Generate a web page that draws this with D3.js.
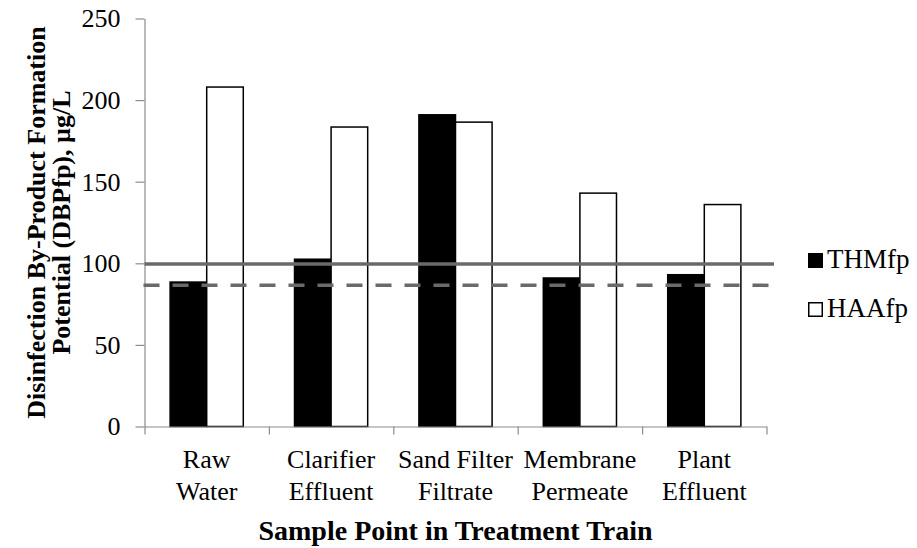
<!DOCTYPE html>
<html>
<head>
<meta charset="utf-8">
<script src="https://cdn.jsdelivr.net/npm/d3@7"></script>
<style>
  body { margin: 0; background: #fff; }
</style>
</head>
<body>
<div id="content"></div>
<script>
// ******* DATA *******
const categories = [["Raw", "Water"], ["Clarifier", "Effluent"], ["Sand Filter", "Filtrate"], ["Membrane", "Permeate"], ["Plant", "Effluent"]];
const seriesNames = ["THMfp", "HAAfp"];
const thmfp = [88.5, 102.5, 191, 91, 93];
const haafp = [208, 183.5, 186.5, 143, 136];
const yTicks = [0, 50, 100, 150, 200, 250];
// horizontal reference lines drawn across the chart
const solidLineValue = 99.5;
const dashedLineValue = 86.5;

// ******* LAYOUT *******
const width = 917, height = 548;
const plot = { left: 144.5, right: 766.5, top: 18.5, bottom: 426.5 };
const axisColor = "#8c8c8c";
const refColor = "#6a6a6a";
const serif = '"Liberation Serif", "Times New Roman", serif';

const svg = d3.select("#content").append("svg")
    .attr("width", width)
    .attr("height", height);

// scales
const x = d3.scaleBand()
    .domain(d3.range(categories.length))
    .range([plot.left, plot.right]);
const xEdges = d3.scaleLinear()
    .domain([0, categories.length])
    .range([plot.left, plot.right]);
const xSeries = d3.scaleBand()
    .domain(seriesNames)
    .range([0, x.bandwidth()])
    .paddingOuter(0.7);
const y = d3.scaleLinear()
    .domain([0, 250])
    .range([plot.bottom, plot.top]);

// ******* BARS *******
const rows = categories.map((c, i) => ({ i, values: [thmfp[i], haafp[i]] }));

const groups = svg.append("g").selectAll("g")
    .data(rows)
    .join("g")
    .attr("transform", d => `translate(${x(d.i)},0)`);

groups.selectAll("rect")
    .data(d => d.values.map((v, k) => ({ name: seriesNames[k], v })))
    .join("rect")
    .attr("x", d => xSeries(d.name))
    .attr("y", d => y(d.v))
    .attr("width", xSeries.bandwidth())
    .attr("height", d => y(0) - y(d.v))
    .attr("fill", d => d.name === "THMfp" ? "#000" : "#fff")
    .attr("stroke", "#000")
    .attr("stroke-width", 1.5);

// ******* AXES *******
const yAxis = svg.append("g")
    .attr("transform", `translate(${plot.left},0)`)
    .call(d3.axisLeft(y).tickValues(yTicks).tickSize(9).tickSizeOuter(0).tickPadding(15));
yAxis.selectAll("path, line").attr("stroke", axisColor).attr("stroke-width", 1.2);
yAxis.selectAll("text").style("font-size", "26px");

const xAxis = svg.append("g")
    .attr("transform", `translate(0,${plot.bottom})`)
    .call(d3.axisBottom(xEdges).tickValues(d3.range(categories.length + 1)).tickSize(8).tickSizeOuter(0).tickFormat(""));
xAxis.selectAll("path, line").attr("stroke", axisColor).attr("stroke-width", 1.2);

// category labels, two lines each
const catLabels = svg.append("g").selectAll("text")
    .data(categories)
    .join("text")
    .attr("text-anchor", "middle")
    .style("font-size", "26px");
catLabels.each(function (d, i) {
    d3.select(this).selectAll("tspan")
        .data(d)
        .join("tspan")
        .attr("x", x(i) + x.bandwidth() / 2)
        .attr("y", (t, k) => 468 + k * 32)
        .text(t => t);
});

// ******* REFERENCE LINES *******
svg.append("line")
    .attr("x1", plot.left).attr("x2", 774)
    .attr("y1", y(solidLineValue)).attr("y2", y(solidLineValue))
    .attr("stroke", refColor).attr("stroke-width", 3.5);
svg.append("line")
    .attr("x1", plot.left - 1).attr("x2", 774)
    .attr("y1", y(dashedLineValue)).attr("y2", y(dashedLineValue))
    .attr("stroke", refColor).attr("stroke-width", 3.5)
    .attr("stroke-dasharray", "16,13");

// ******* TITLES *******
svg.append("text")
    .attr("x", (plot.left + plot.right) / 2)
    .attr("y", 540)
    .attr("text-anchor", "middle")
    .style("font-size", "28px")
    .style("font-weight", "bold")
    .text("Sample Point in Treatment Train");

const yTitle = svg.append("text")
    .attr("transform", `translate(0,${(plot.top + plot.bottom) / 2}) rotate(-90)`)
    .attr("text-anchor", "middle")
    .style("font-size", "26px")
    .style("font-weight", "bold");
yTitle.append("tspan").attr("x", 0).attr("y", 45).text("Disinfection By-Product Formation");
yTitle.append("tspan").attr("x", 0).attr("y", 70).text("Potential (DBPfp), µg/L");

// ******* LEGEND *******
const legend = svg.append("g").attr("transform", "translate(808,0)");
seriesNames.forEach((name, k) => {
    const baseY = 268 + k * 49;
    legend.append("rect")
        .attr("x", 0.75).attr("y", baseY - 14.25)
        .attr("width", 13.5).attr("height", 13.5)
        .attr("fill", k === 0 ? "#000" : "#fff")
        .attr("stroke", "#000").attr("stroke-width", 1.5);
    legend.append("text")
        .attr("x", 19).attr("y", baseY)
        .style("font-size", "27px")
        .text(name);
});

// every text in the serif face
svg.selectAll("text").style("font-family", serif).attr("fill", "#000");
</script>
</body>
</html>
